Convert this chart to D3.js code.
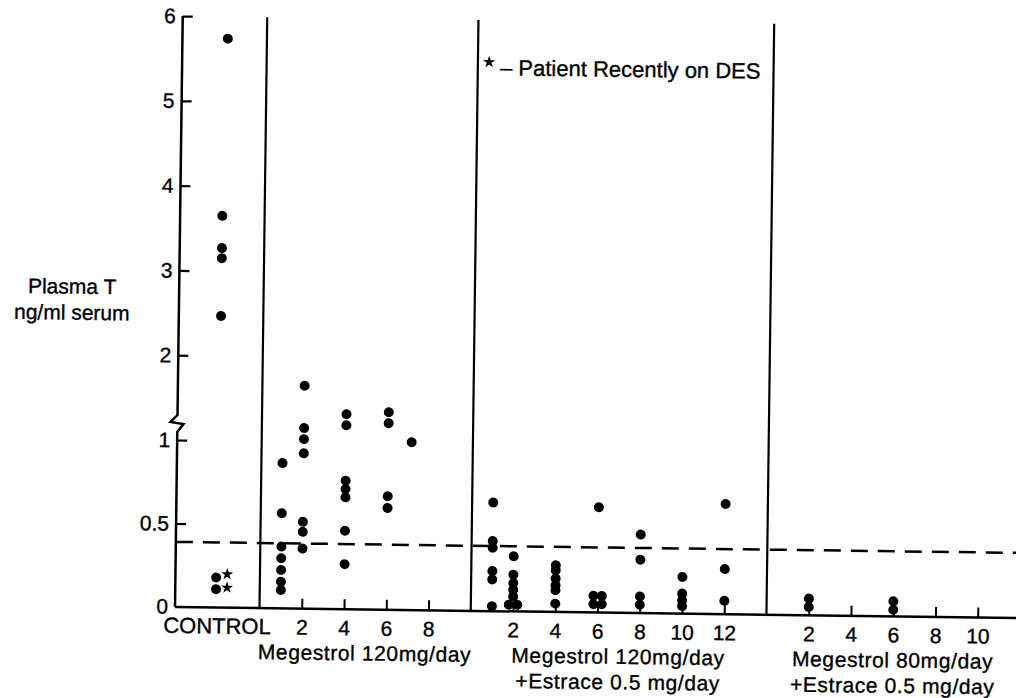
<!DOCTYPE html>
<meta charset="utf-8">
<script src="https://d3js.org/d3.v7.min.js"></script>
<style>
  body { margin: 0; background: #fff; }
  text { font-family: "Liberation Sans", Arial, sans-serif; fill: #000; stroke: #000; stroke-width: 0.35px; }
</style>
<body>
<div id="chart"></div>
<script>
// panels along the x axis (width of each panel in weeks)
var panelLabels = [["CONTROL"], ["Megestrol 120mg/day"], ["Megestrol 120mg/day", "+Estrace 0.5 mg/day"], ["Megestrol 80mg/day", "+Estrace 0.5 mg/day"]];
var panelWeeks = [4, 10, 14, 12];
var panelTicks = [[], [2, 4, 6, 8], [2, 4, 6, 8, 10, 12], [2, 4, 6, 8, 10]];
var yTicks = [0, 0.5, 1, 2, 3, 4, 5, 6];

// [week within panel, plasma T ng/ml]
var control = [[2.15, 5.74], [2, 3.65], [2, 3.27], [2, 3.15], [2, 2.47], [1.93, 0.18], [1.93, 0.11]];
var recentDES = [[2.45, 0.20], [2.45, 0.12]];
var meg120 = [
  [1, 0.87], [1, 0.57], [1, 0.37], [1, 0.30], [1, 0.23], [1, 0.16], [1, 0.11],
  [2, 1.66], [2, 1.16], [2, 1.03], [2, 0.93], [2, 0.52], [2, 0.46], [2, 0.36],
  [4, 1.33], [4, 1.20], [4, 0.77], [4, 0.72], [4, 0.67], [4, 0.47], [4, 0.27],
  [6, 1.36], [6, 1.23], [6, 0.68], [6, 0.61],
  [7.1, 1.01]
];
var meg120Estrace = [
  [1, 0.65], [1, 0.42], [1, 0.38], [1, 0.24], [1, 0.19], [1, 0.03],
  [2, 0.33], [2, 0.22], [2, 0.17], [2, 0.13], [2, 0.09], [1.8, 0.04], [2.2, 0.04],
  [4, 0.28], [4, 0.25], [4, 0.20], [4, 0.16], [4, 0.13], [4, 0.05],
  [6, 0.63], [5.8, 0.10], [6.2, 0.10], [5.8, 0.05], [6.2, 0.05],
  [8, 0.47], [8, 0.32], [8, 0.10], [8, 0.05],
  [10, 0.22], [10, 0.12], [10, 0.08], [10, 0.045],
  [12, 0.66], [12, 0.27], [12, 0.08]
];
var meg80Estrace = [[2, 0.10], [2, 0.05], [6, 0.09], [6, 0.04]];
var panelData = [control, meg120, meg120Estrace, meg80Estrace];
var normalLimit = 0.39;

var width = 1016, height = 698;
var svg = d3.select("#chart").append("svg")
  .attr("width", width).attr("height", height)
  .style("background", "#fff");

// scanned figure sits slightly rotated
var g = svg.append("g").attr("transform", "translate(175,607) rotate(0.75)");

var offsets = [0];
panelWeeks.forEach(function(w, i) { offsets.push(offsets[i] + w); });

var x = d3.scaleLinear().domain([0, 40]).range([0, 845]);
// broken axis: 0-1 stretched, 1-6 compressed
var y = d3.scaleLinear().domain([0, 1, 6]).range([0, -167, -591]);

// y axis ticks and labels
var yAxis = g.append("g").call(d3.axisLeft(y)
  .tickValues(yTicks.filter(function(d) { return d > 0; }))
  .tickSizeInner(-10).tickSizeOuter(0).tickPadding(7)
  .tickFormat(d3.format("")));
yAxis.select(".domain").remove();
yAxis.selectAll("line").attr("stroke", "#000").attr("stroke-width", 2.2);
yAxis.selectAll("text").style("font-size", "21px").attr("fill", "#000")
  .style("font-family", "'Liberation Sans', Arial, sans-serif");
g.append("text").attr("x", -7).attr("y", y(0)).attr("dy", "0.32em")
  .attr("text-anchor", "end").style("font-size", "21px").text("0");

// y axis line with break between 1 and 2
var yb = y(1.2);
g.append("path")
  .attr("d", "M0," + y(6) + "L0," + (yb - 8) + "L-7," + (yb - 1) + "L6," + (yb + 1) + "L0," + (yb + 9) + "L0," + y(0))
  .attr("fill", "none").attr("stroke", "#000").attr("stroke-width", 2.5)
  .attr("stroke-linejoin", "miter");

// baseline
g.append("line").attr("x1", 0).attr("x2", 880).attr("y1", y(0)).attr("y2", y(0))
  .attr("stroke", "#000").attr("stroke-width", 2.5);

// panel dividers
g.selectAll(".divider").data(offsets.slice(1, 4)).enter().append("line")
  .attr("class", "divider")
  .attr("x1", function(d) { return x(d); }).attr("x2", function(d) { return x(d); })
  .attr("y1", y(0)).attr("y2", y(6))
  .attr("stroke", "#000").attr("stroke-width", 2.2);

// normal limit
g.append("line").attr("x1", 0).attr("x2", 880)
  .attr("y1", y(normalLimit)).attr("y2", y(normalLimit))
  .attr("stroke", "#000").attr("stroke-width", 2.5)
  .attr("stroke-dasharray", "17,10");

// panel x axes and labels
panelWeeks.forEach(function(w, i) {
  var xp = d3.scaleLinear().domain([0, w]).range([x(offsets[i]), x(offsets[i] + w)]);
  if (panelTicks[i].length) {
    var ax = g.append("g").call(d3.axisBottom(xp)
      .tickValues(panelTicks[i]).tickSizeInner(-10).tickSizeOuter(0));
    ax.select(".domain").remove();
    ax.selectAll("line").attr("stroke", "#000").attr("stroke-width", 2);
    ax.selectAll("text").attr("y", 26).attr("dy", 0)
      .style("font-size", "21px").attr("fill", "#000")
      .style("font-family", "'Liberation Sans', Arial, sans-serif");
  }
  if (i === 0) {
    g.append("text").attr("text-anchor", "middle")
      .attr("x", xp(w / 2)).attr("y", 26).style("font-size", "22px")
      .text(panelLabels[i][0]);
  } else {
    panelLabels[i].forEach(function(t, j) {
      g.append("text").attr("text-anchor", "middle")
        .attr("x", xp(w / 2)).attr("y", 51 + j * 25.5)
        .style("font-size", "21px").style("letter-spacing", "0.6px")
        .text(t);
    });
  }

  // data points
  g.append("g").selectAll("circle").data(panelData[i]).enter().append("circle")
    .attr("cx", function(d) { return xp(d[0]); })
    .attr("cy", function(d) { return y(d[1]); })
    .attr("r", 5).attr("fill", "#000");
});

// patients recently on DES
var star = d3.symbol().type(d3.symbolStar).size(45);
g.append("g").selectAll("path").data(recentDES).enter().append("path")
  .attr("d", star)
  .attr("transform", function(d) { return "translate(" + x(d[0]) + "," + y(d[1]) + ")"; })
  .attr("fill", "#000");

// legend
g.append("path").attr("d", star).attr("transform", "translate(307,-549)").attr("fill", "#000");
g.append("text").attr("x", 318).attr("y", -536).style("font-size", "22px")
  .text("\u2013 Patient Recently on DES");

// y axis title
g.append("text").attr("x", -107).attr("y", -312).attr("text-anchor", "middle")
  .style("font-size", "21px").text("Plasma T");
g.append("text").attr("x", -107).attr("y", -286).attr("text-anchor", "middle")
  .style("font-size", "21px").text("ng/ml serum");
</script>
</body>
